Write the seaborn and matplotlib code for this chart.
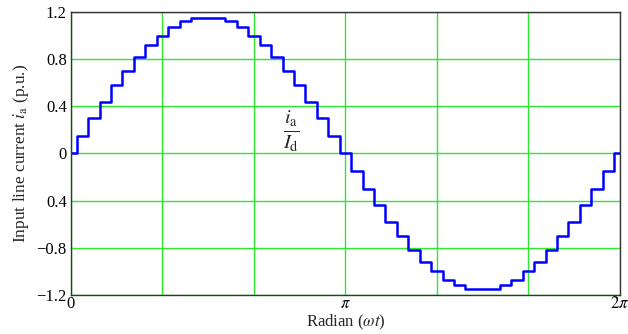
import numpy as np
import pandas as pd
import matplotlib
matplotlib.use("Agg")
import matplotlib.pyplot as plt
import seaborn as sns

# staircase samples, one every pi/24 rad
step_index = list(range(49))
current_pu = [
    0.00, 0.15, 0.30, 0.44, 0.58, 0.70, 0.82, 0.92, 1.00, 1.07, 1.12, 1.15,
    1.15, 1.15, 1.12, 1.07, 1.00, 0.92, 0.82, 0.70, 0.58, 0.44, 0.30, 0.15,
    0.00, -0.15, -0.30, -0.44, -0.58, -0.70, -0.82, -0.92, -1.00, -1.07, -1.12, -1.15,
    -1.15, -1.15, -1.12, -1.07, -1.00, -0.92, -0.82, -0.70, -0.58, -0.44, -0.30, -0.15,
    0.00,
]
y_ticks = [-1.2, -0.8, -0.4, 0, 0.4, 0.8, 1.2]
y_tick_labels = ["\u22121.2", "\u22120.8", "0.4", "0", "0.4", "0.8", "1.2"]
x_tick_labels = ["0", "", "", r"$\pi$", "", "", r"$2\pi$"]

df = pd.DataFrame({"angle": np.array(step_index) * np.pi / 24, "ia": current_pu})

sns.set_theme(style="whitegrid")
plt.rcParams["font.family"] = ["Liberation Serif", "DejaVu Serif"]
plt.rcParams["mathtext.fontset"] = "stix"

fig = plt.figure(figsize=(6.28, 3.34), dpi=100)
ax = fig.add_axes([0.113, 0.117, 0.874, 0.847])

sns.lineplot(data=df, x="angle", y="ia", color="#0000ff", linewidth=1.8,
             drawstyle="steps-mid", ax=ax)

ax.set_xlim(0, 2 * np.pi)
ax.set_ylim(-1.2, 1.2)
ax.set_xticks(np.arange(7) * np.pi / 3)
ax.set_xticklabels(x_tick_labels, fontsize=12)
ax.set_yticks(y_ticks)
ax.set_yticklabels(y_tick_labels, fontsize=12)
ax.tick_params(axis="y", length=0, pad=3, colors="black")
ax.tick_params(axis="x", length=0, pad=1, colors="black")

ax.grid(True, color="#2ee82e", linewidth=1.0)
ax.set_facecolor("white")
for s in ax.spines.values():
    s.set_color("#333333")
    s.set_linewidth(1.0)

ax.set_xlabel(r"Radian ($\omega t$)", fontsize=12, labelpad=0)
ax.set_ylabel(r"Input line current $i_\mathrm{a}$ (p.u.)", fontsize=12.5, labelpad=4)

ax.text(2.52, 0.19, r"$\frac{i_\mathrm{a}}{I_\mathrm{d}}$", fontsize=21,
        ha="center", va="center")

fig.savefig("out.png", dpi=100)
